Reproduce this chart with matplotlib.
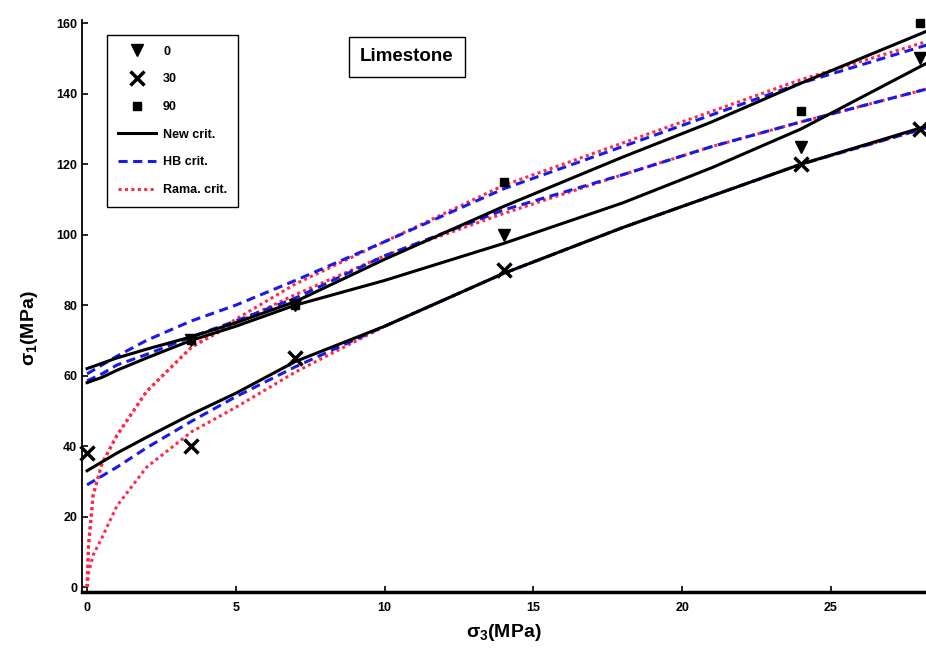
import matplotlib
matplotlib.use('Agg')
import matplotlib.pyplot as plt

plt.rcParams['font.family'] = ['Liberation Sans', 'DejaVu Sans']
plt.rcParams['font.weight'] = 'bold'
plt.rcParams['mathtext.fontset'] = 'custom'
plt.rcParams['mathtext.rm'] = 'Liberation Sans:bold'
plt.rcParams['mathtext.it'] = 'Liberation Sans:bold'

# test data (sigma3, sigma1) in MPa
s3_0 = [3.5, 7, 14, 24, 28]
s1_0 = [70, 80, 100, 125, 150]
s3_30 = [0, 3.5, 7, 14, 24, 28]
s1_30 = [38, 40, 65, 90, 120, 130]
s3_90 = [3.5, 7, 14, 24, 28]
s1_90 = [70, 80, 115, 135, 160]

# fitted criteria
s3_fit = [0, 0.5, 1, 2, 3.5, 5, 7, 10, 14, 18, 21, 24, 28.3]
new_0 = [58, 59.5, 61.5, 65, 70, 74, 80, 87, 97.5, 109, 119, 130, 149]
new_30 = [33, 35.5, 38, 42.5, 49, 55, 64, 74, 89, 102, 111, 120, 131]
new_90 = [62, 63.5, 65, 67.5, 71, 75, 81, 93, 108, 122, 132, 143, 158]
hb_0 = [58.5, 60.5, 63, 66, 71, 75.5, 82, 94, 107, 117, 125, 132, 141.5]
hb_30 = [29, 31.5, 34, 39.5, 47, 54, 62.5, 74, 89, 102, 111, 120, 130.5]
hb_90 = [60.5, 63, 65.5, 70, 75.5, 80, 87, 98, 113, 125, 134, 143, 154]

s3_rama = [0, 0.05, 0.2, 0.5, 1, 2, 3.5, 5, 7, 10, 14, 18, 21, 24, 28.3]
rama_0 = [0, 12, 26, 35, 43, 55.5, 68, 75, 83, 94, 106, 117, 125, 132, 141.5]
rama_30 = [0, 4, 9, 14, 23, 34, 44, 51, 61, 74, 89, 102, 111, 120, 130.5]
rama_90 = [0, 12, 26, 35, 43, 55.5, 68, 76, 86, 98, 114, 126, 135, 144, 155]

blue = '#1a1ae6'
red = '#ff2a4a'

fig = plt.figure(figsize=(9.26, 6.57), dpi=100)
ax = fig.add_axes([0.0886, 0.099, 0.9114, 0.871])

for y in (rama_0, rama_30, rama_90):
	ax.plot(s3_rama, y, color=red, lw=2.2, linestyle=(0, (1, 1.1)))
for y in (hb_0, hb_30, hb_90):
	ax.plot(s3_fit, y, color=blue, lw=2.2, linestyle=(0, (3, 1.8)))
for y in (new_0, new_30, new_90):
	ax.plot(s3_fit, y, color='black', lw=2.2)

m0, = ax.plot(s3_0, s1_0, 'kv', ms=8, clip_on=False, label='0')
m30, = ax.plot(s3_30, s1_30, 'kx', ms=10, mew=2.5, clip_on=False, label='30')
m90, = ax.plot(s3_90, s1_90, 'ks', ms=6, clip_on=False, label='90')

l_new, = ax.plot([], [], color='black', lw=2.2)
l_hb, = ax.plot([], [], color=blue, lw=2.2, linestyle=(0, (3, 1.8)))
l_rama, = ax.plot([], [], color=red, lw=2.2, linestyle=(0, (1, 1.1)))

leg = ax.legend((m0, m30, m90, l_new, l_hb, l_rama),
	('0', '30', '90', 'New crit.', 'HB crit.', 'Rama. crit.'),
	loc='upper left', bbox_to_anchor=(0.022, 0.985), fontsize=9,
	handlelength=3.0, labelspacing=1.25, fancybox=False, edgecolor='black',
	framealpha=1, borderpad=0.9, handletextpad=0.6)
leg.get_frame().set_linewidth(1.0)

ax.text(0.385, 0.935, 'Limestone', transform=ax.transAxes, fontsize=13.5,
	fontweight='bold', ha='center', va='center',
	bbox=dict(boxstyle='square,pad=0.6', fc='white', ec='black', lw=1))

ax.set_xlim(-0.17, 28.2)
ax.set_ylim(-1.4, 161)
ax.set_xticks([0, 5, 10, 15, 20, 25])
ax.set_yticks(range(0, 161, 20))
ax.tick_params(direction='in', length=4, width=1.2, labelsize=9)
ax.tick_params(axis='x', pad=7)
ax.spines['top'].set_visible(False)
ax.spines['right'].set_visible(False)
ax.spines['left'].set_linewidth(1.3)
ax.spines['bottom'].set_linewidth(2.5)

ax.set_xlabel(r'$\sigma_3$(MPa)', fontsize=14, fontweight='bold', labelpad=6)
ax.set_ylabel(r'$\sigma_1$(MPa)', fontsize=14, fontweight='bold')
ax.yaxis.set_label_coords(-0.05, 0.46)

fig.savefig('out.png', dpi=100)
